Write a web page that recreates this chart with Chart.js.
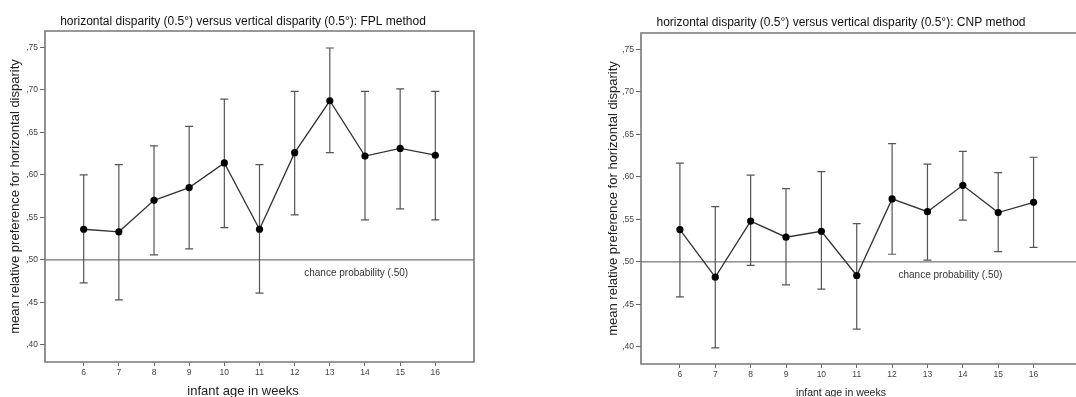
<!DOCTYPE html>
<html>
<head>
<meta charset="utf-8">
<script src="https://cdn.jsdelivr.net/npm/chart.js@4.4.1/dist/chart.umd.min.js"></script>
<style>
  body { margin: 0; background: #fff; }
  #wrap { position: relative; width: 1076px; height: 397px; overflow: hidden; }
  canvas { position: absolute; top: 0; }
</style>
</head>
<body>
<div id="wrap">
  <canvas id="fplChart" width="486" height="397" style="left:0px"></canvas>
  <canvas id="cnpChart" width="470" height="397" style="left:606px"></canvas>
</div>
<script>
// infant age in weeks
const weeks = [6, 7, 8, 9, 10, 11, 12, 13, 14, 15, 16];
const yTicks = [0.40, 0.45, 0.50, 0.55, 0.60, 0.65, 0.70, 0.75];
const chanceLevel = 0.50;
const chanceLabel = 'chance probability (.50)';

// FPL method: mean and error bar ends
const fplMean = [0.536, 0.533, 0.570, 0.585, 0.614, 0.536, 0.626, 0.687, 0.622, 0.631, 0.623];
const fplLow  = [0.473, 0.453, 0.506, 0.513, 0.538, 0.461, 0.553, 0.626, 0.547, 0.560, 0.547];
const fplHigh = [0.600, 0.612, 0.634, 0.657, 0.689, 0.612, 0.698, 0.749, 0.698, 0.701, 0.698];

// CNP method
const cnpMean = [0.538, 0.482, 0.548, 0.529, 0.536, 0.484, 0.574, 0.559, 0.590, 0.558, 0.570];
const cnpLow  = [0.459, 0.399, 0.496, 0.473, 0.468, 0.421, 0.509, 0.502, 0.549, 0.512, 0.517];
const cnpHigh = [0.616, 0.565, 0.602, 0.586, 0.606, 0.545, 0.639, 0.615, 0.630, 0.605, 0.623];

const FONT = '"Liberation Sans", Arial, sans-serif';
Chart.defaults.font.family = FONT;
Chart.defaults.animation = false;

// chance line, error bars and plot frame
const spssDecor = {
  id: 'spssDecor',
  beforeDatasetsDraw(chart, args, opts) {
    const {ctx, chartArea: a, scales: {x, y}} = chart;
    ctx.save();
    const cy = y.getPixelForValue(chanceLevel);
    ctx.strokeStyle = '#555';
    ctx.lineWidth = 1;
    ctx.beginPath();
    ctx.moveTo(a.left, cy);
    ctx.lineTo(a.right, cy);
    ctx.stroke();

    ctx.font = '10px ' + FONT;
    ctx.fillStyle = '#333';
    ctx.textAlign = 'center';
    ctx.textBaseline = 'middle';
    ctx.fillText(chanceLabel, x.getPixelForValue(opts.labelX), cy + opts.labelGap);

    ctx.strokeStyle = '#555';
    ctx.lineWidth = 1.2;
    opts.low.forEach((lo, i) => {
      const px = x.getPixelForValue(weeks[i]);
      const p1 = y.getPixelForValue(lo);
      const p2 = y.getPixelForValue(opts.high[i]);
      ctx.beginPath();
      ctx.moveTo(px, p1); ctx.lineTo(px, p2);
      ctx.moveTo(px - 4, p1); ctx.lineTo(px + 4, p1);
      ctx.moveTo(px - 4, p2); ctx.lineTo(px + 4, p2);
      ctx.stroke();
    });
    ctx.restore();
  },
  afterDraw(chart, args, opts) {
    const {ctx, chartArea: a} = chart;
    ctx.save();
    ctx.strokeStyle = '#777';
    ctx.lineWidth = 1.6;
    ctx.beginPath();
    ctx.moveTo(a.right + (opts.rightSide ? 0 : 10), a.top);
    ctx.lineTo(a.left, a.top);
    ctx.lineTo(a.left, a.bottom);
    ctx.lineTo(a.right + (opts.rightSide ? 0 : 10), a.bottom);
    if (opts.rightSide) ctx.closePath();
    ctx.stroke();
    ctx.restore();
  }
};

function makeChart(id, mean, low, high, s) {
  return new Chart(document.getElementById(id), {
    type: 'line',
    data: {
      datasets: [{
        data: weeks.map((w, i) => ({x: w, y: mean[i]})),
        borderColor: '#333',
        borderWidth: 1.3,
        pointRadius: 3.6,
        pointBackgroundColor: '#000',
        pointBorderWidth: 0,
        tension: 0
      }]
    },
    options: {
      responsive: false,
      events: [],
      layout: { padding: 0, autoPadding: false },
      plugins: {
        legend: { display: false },
        tooltip: { enabled: false },
        title: {
          display: true,
          text: s.title,
          color: '#111',
          font: { size: 12, weight: 'normal', lineHeight: 1.2 },
          padding: { top: s.titleTop, bottom: s.titleBottom }
        },
        subtitle: {
          display: true,
          position: 'bottom',
          text: 'infant age in weeks',
          color: '#222',
          font: { size: s.xTitleSize, lineHeight: 0.8 },
          padding: 0
        },
        spssDecor: { low: low, high: high, labelX: s.labelX, labelGap: 13, rightSide: s.rightSide }
      },
      scales: {
        x: {
          type: 'linear',
          min: 4.9,
          max: s.xMax,
          border: { display: false },
          grid: { drawOnChartArea: false, drawTicks: true, tickLength: 4, color: '#666' },
          ticks: { font: { size: 8.5 }, color: '#444', padding: 2, callback: v => v },
          afterBuildTicks: sc => { sc.ticks = weeks.map(v => ({value: v})); },
          afterFit: sc => { sc.height = 24.6; sc.paddingRight = s.padRight; }
        },
        y: {
          min: 0.38,
          max: 0.769,
          border: { display: false },
          grid: { drawOnChartArea: false, drawTicks: true, tickLength: 5, color: '#666' },
          ticks: {
            font: { size: 8.5 }, color: '#444', padding: 2,
            callback: v => v.toFixed(2).replace(/^0\./, ',')
          },
          afterBuildTicks: sc => { sc.ticks = yTicks.map(v => ({value: v})); },
          afterFit: sc => { sc.width = s.yWidth; },
          title: {
            display: true,
            text: 'mean relative preference for horizontal disparity',
            color: '#222',
            font: { size: 13, lineHeight: 1.2 },
            padding: { top: s.yTitlePad, bottom: 0 }
          }
        }
      }
    },
    plugins: [spssDecor]
  });
}

makeChart('fplChart', fplMean, fplLow, fplHigh, {
  title: 'horizontal disparity (0.5°) versus vertical disparity (0.5°): FPL method',
  titleTop: 14.8, titleBottom: 1.8, xTitleSize: 13, xMax: 17.1, padRight: 12,
  yWidth: 45, yTitlePad: 7.7, labelX: 13.75, rightSide: true
});

makeChart('cnpChart', cnpMean, cnpLow, cnpHigh, {
  title: 'horizontal disparity (0.5°) versus vertical disparity (0.5°): CNP method',
  titleTop: 15.8, titleBottom: 2.8, xTitleSize: 10.5, xMax: 17.2, padRight: 0,
  yWidth: 35, yTitlePad: 0, labelX: 13.65, rightSide: false
});
</script>
</body>
</html>
